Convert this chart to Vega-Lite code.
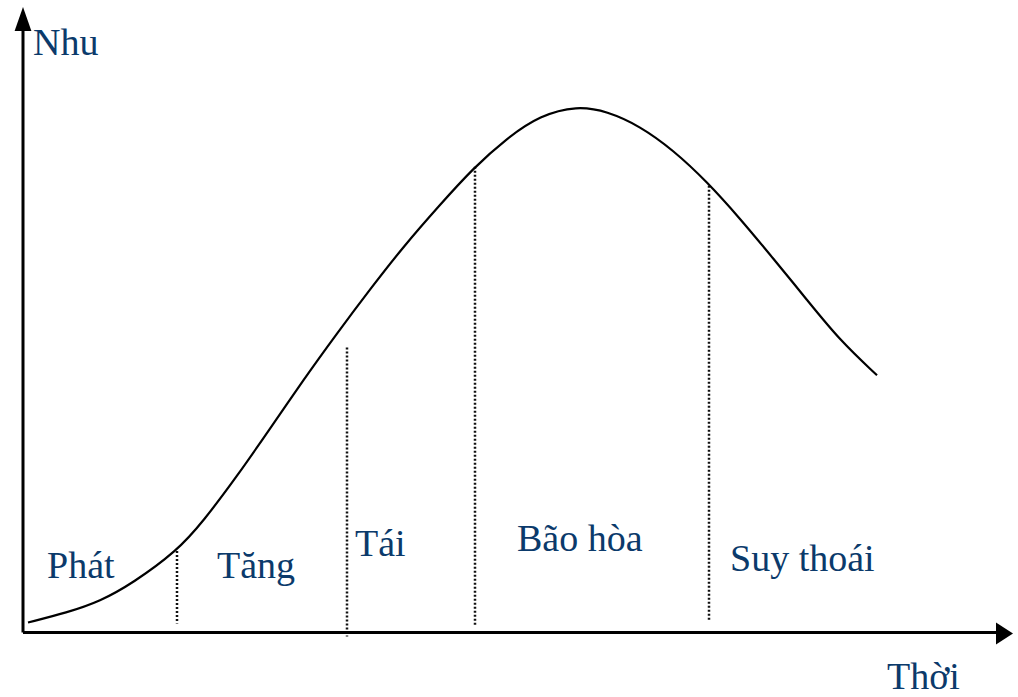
{
  "$schema": "https://vega.github.io/schema/vega-lite/v6.json",
  "width": 1018,
  "height": 697,
  "autosize": {"type": "fit", "contains": "padding"},
  "padding": 0,
  "background": "white",
  "config": {"view": {"stroke": null}},
  "datasets": {
    "curve": [
      {"t": 0.6, "d": 1.67}, {"t": 0.6, "d": 1.67}, {"t": 4.5, "d": 3.33}, {"t": 7.8, "d": 5.2}, {"t": 11.1, "d": 8.3},
      {"t": 15.5, "d": 13.67}, {"t": 18.1, "d": 18.6}, {"t": 21.5, "d": 26.2}, {"t": 24.8, "d": 34.2},
      {"t": 28.1, "d": 42.3}, {"t": 31.5, "d": 50.2}, {"t": 34.8, "d": 57.6}, {"t": 38.2, "d": 64.9},
      {"t": 41.8, "d": 71.8}, {"t": 45.1, "d": 77.9}, {"t": 48.5, "d": 83.0}, {"t": 51.8, "d": 86.8},
      {"t": 55.5, "d": 88.4}, {"t": 58.5, "d": 87.5}, {"t": 61.8, "d": 85.0}, {"t": 65.1, "d": 81.0},
      {"t": 68.5, "d": 75.67}, {"t": 71.8, "d": 69.5}, {"t": 75.1, "d": 62.83}, {"t": 78.5, "d": 55.83},
      {"t": 81.8, "d": 49}, {"t": 85.5, "d": 43.17}, {"t": 85.5, "d": 43.17}
    ],
    "dividers": [
      {"t": 15.5, "top": 13.67, "bottom": 1.5},
      {"t": 32.5, "top": 47.83, "bottom": -0.67},
      {"t": 45.3, "top": 78.17, "bottom": 1.17},
      {"t": 68.7, "top": 75, "bottom": 1.83}
    ],
    "axes": [
      {"axis": "time", "t": 0.1, "d": 0, "t2": 97.8, "d2": 0},
      {"axis": "demand", "t": 0.1, "d": 0, "t2": 0.1, "d2": 102}
    ],
    "labels": [
      {"label": "Nhu", "t": 1.1, "d": 97},
      {"label": "Phát", "t": 2.5, "d": 9.17},
      {"label": "Tăng", "t": 19.5, "d": 9.17},
      {"label": "Tái", "t": 33.3, "d": 12.83},
      {"label": "Bão hòa", "t": 49.5, "d": 13.67},
      {"label": "Suy thoái", "t": 70.8, "d": 10.33},
      {"label": "Thời", "t": 86.5, "d": -9.5}
    ]
  },
  "encoding": {},
  "layer": [
    {
      "data": {"name": "labels"},
      "mark": {"type": "text", "align": "left", "baseline": "alphabetic", "font": "Liberation Serif", "fontSize": 38, "color": "#0b3a6b"},
      "encoding": {
        "x": {"field": "t", "type": "quantitative", "scale": {"domain": [-2.2, 99.6], "nice": false, "zero": false}, "axis": null},
        "y": {"field": "d", "type": "quantitative", "scale": {"domain": [-10.17, 106.17], "nice": false, "zero": false}, "axis": null},
        "text": {"field": "label"}
      }
    },
    {
      "data": {"name": "dividers"},
      "mark": {"type": "rule", "color": "#111", "strokeWidth": 2.5, "strokeDash": [2, 2]},
      "encoding": {
        "x": {"field": "t", "type": "quantitative"},
        "y": {"field": "top", "type": "quantitative"},
        "y2": {"field": "bottom"}
      }
    },
    {
      "data": {"name": "curve"},
      "mark": {"type": "line", "color": "black", "strokeWidth": 2.2, "interpolate": "basis"},
      "encoding": {
        "x": {"field": "t", "type": "quantitative"},
        "y": {"field": "d", "type": "quantitative"}
      }
    },
    {
      "data": {"name": "axes"},
      "mark": {"type": "rule", "color": "black", "strokeWidth": 3},
      "encoding": {
        "x": {"field": "t", "type": "quantitative"},
        "y": {"field": "d", "type": "quantitative"},
        "x2": {"field": "t2"},
        "y2": {"field": "d2"}
      }
    },
    {
      "data": {"values": [{"t": 0.1, "d": 103}]},
      "mark": {"type": "point", "shape": "M0,-1L0.7,1L-0.7,1Z", "size": 576, "filled": true, "color": "black", "opacity": 1},
      "encoding": {
        "x": {"field": "t", "type": "quantitative"},
        "y": {"field": "d", "type": "quantitative"}
      }
    },
    {
      "data": {"values": [{"t": 98.25, "d": -0.17}]},
      "mark": {"type": "point", "shape": "M1,0L-1,-1.3L-1,1.3Z", "size": 289, "filled": true, "color": "black", "opacity": 1},
      "encoding": {
        "x": {"field": "t", "type": "quantitative"},
        "y": {"field": "d", "type": "quantitative"}
      }
    }
  ]
}
